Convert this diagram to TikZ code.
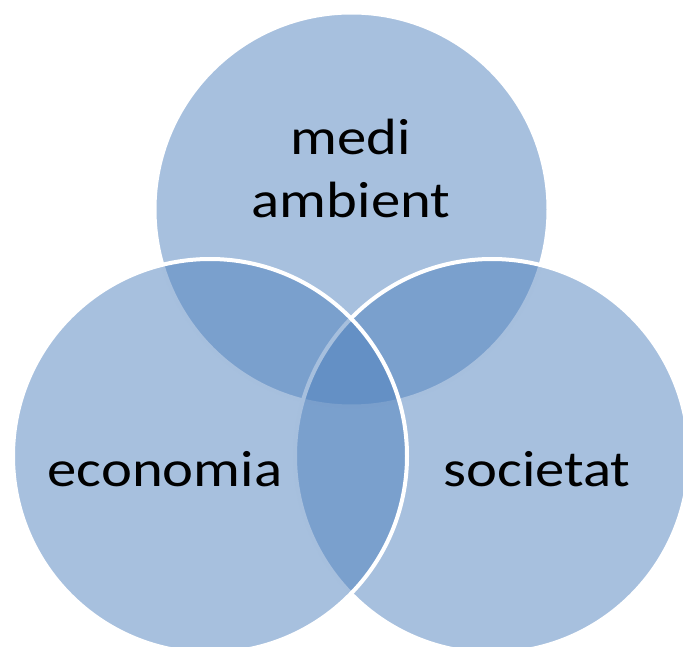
\documentclass[tikz,border=0pt]{standalone}
\usepackage{fontspec}
\setmainfont{Carlito}
\definecolor{accentblue}{HTML}{4F81BD}
\begin{document}
\begin{tikzpicture}[x=1pt,y=-1pt,
  venn/.style={circle,inner sep=0pt,minimum size=394pt,fill=accentblue,fill opacity=0.5,draw=white,draw opacity=1,line width=4pt},
  lbl/.style={anchor=base,inner sep=0pt,font=\fontsize{51}{60}\selectfont,text=black,xscale=1.15}]
\useasboundingbox (0,0) rectangle (683,647);
\clip (0,0) rectangle (683,647);
\node[venn] (top) at (351.5,209.5) {};
\node[venn] (right) at (492,456) {};
\node[venn] (left) at (210,456) {};
\node[lbl] (t1) at (351,155) {medi};
\node[lbl] (t2) at (351,218) {ambient};
\node[lbl] (t3) at (165,486) {economia};
\node[lbl] (t4) at (537,486) {societat};
\end{tikzpicture}
\end{document}
